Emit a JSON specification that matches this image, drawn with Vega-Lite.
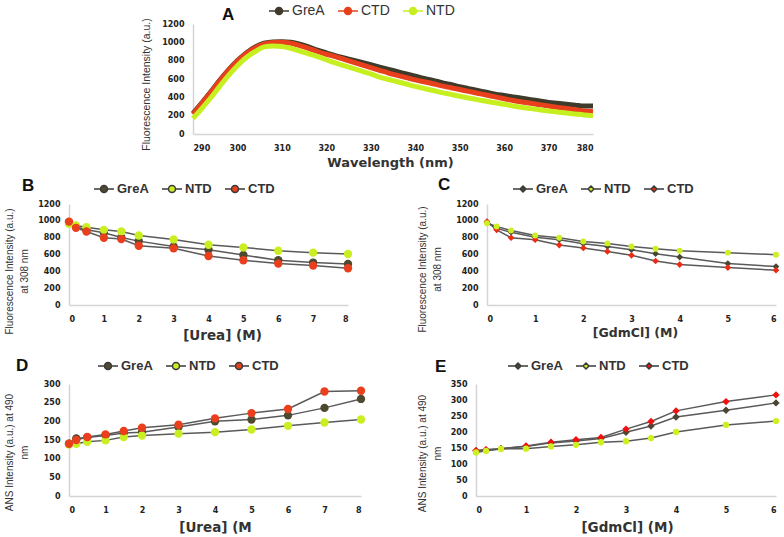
{
  "$schema": "https://vega.github.io/schema/vega-lite/v6.json",
  "padding": {"left": 4, "top": 0, "right": 0, "bottom": 0},
  "background": "white",
  "spacing": 7,
  "resolve": {"scale": {"color": "independent", "stroke": "independent"}, "legend": {"color": "independent"}},
  "config": {
    "font": "Liberation Sans",
    "view": {"stroke": null},
    "axis": {"grid": false, "ticks": false, "domainColor": "#d4d4d4", "domainWidth": 1.5, "labelFont": "DejaVu Sans", "labelFontWeight": "bold", "labelFontSize": 8, "labelColor": "#222", "labelPadding": 9, "format": "d", "titleFont": "Liberation Sans", "titleFontWeight": "normal", "titleFontSize": 10, "titleColor": "#333", "titleLineHeight": 15},
    "axisX": {"titleFont": "DejaVu Sans", "titleFontWeight": "bold", "titleFontSize": 13.5, "titleColor": "#333", "titleBaseline": "middle", "titleAlign": "center", "labelPadding": 10},
    "axisY": {"titleAngle": 270, "titleBaseline": "top", "titleAlign": "center"},
    "legend": {"orient": "none", "direction": "horizontal", "title": null, "symbolSize": 400, "symbolStrokeWidth": 1.5, "symbolOpacity": 1, "labelFont": "Liberation Sans", "labelFontWeight": "bold", "labelFontSize": 13, "labelColor": "#333", "columnPadding": 10, "labelOffset": 2},
    "title": {"font": "Liberation Sans", "fontSize": 17, "fontWeight": "bold", "color": "#111", "anchor": "start", "frame": "group"}
  },
  "datasets": {
    "spec": [
      {"s":"GreA","x":290,"v":225},{"s":"GreA","x":292,"v":340},{"s":"GreA","x":294,"v":460},{"s":"GreA","x":296,"v":585},{"s":"GreA","x":298,"v":700},{"s":"GreA","x":300,"v":800},{"s":"GreA","x":302,"v":885},{"s":"GreA","x":304,"v":950},{"s":"GreA","x":306,"v":990},{"s":"GreA","x":308,"v":1005},{"s":"GreA","x":310,"v":1007},{"s":"GreA","x":312,"v":1000},{"s":"GreA","x":314,"v":980},{"s":"GreA","x":316,"v":950},{"s":"GreA","x":318,"v":915},{"s":"GreA","x":320,"v":885},{"s":"GreA","x":322,"v":855},{"s":"GreA","x":324,"v":830},{"s":"GreA","x":326,"v":805},{"s":"GreA","x":328,"v":780},{"s":"GreA","x":330,"v":755},{"s":"GreA","x":332,"v":730},{"s":"GreA","x":334,"v":705},{"s":"GreA","x":336,"v":680},{"s":"GreA","x":338,"v":655},{"s":"GreA","x":340,"v":630},{"s":"GreA","x":342,"v":605},{"s":"GreA","x":344,"v":585},{"s":"GreA","x":346,"v":560},{"s":"GreA","x":348,"v":540},{"s":"GreA","x":350,"v":515},{"s":"GreA","x":352,"v":495},{"s":"GreA","x":354,"v":475},{"s":"GreA","x":356,"v":455},{"s":"GreA","x":358,"v":435},{"s":"GreA","x":360,"v":420},{"s":"GreA","x":362,"v":405},{"s":"GreA","x":364,"v":390},{"s":"GreA","x":366,"v":375},{"s":"GreA","x":368,"v":360},{"s":"GreA","x":370,"v":345},{"s":"GreA","x":372,"v":335},{"s":"GreA","x":374,"v":325},{"s":"GreA","x":376,"v":315},{"s":"GreA","x":378,"v":305},{"s":"GreA","x":380,"v":305},
      {"s":"CTD","x":290,"v":215},{"s":"CTD","x":292,"v":335},{"s":"CTD","x":294,"v":455},{"s":"CTD","x":296,"v":580},{"s":"CTD","x":298,"v":695},{"s":"CTD","x":300,"v":795},{"s":"CTD","x":302,"v":878},{"s":"CTD","x":304,"v":942},{"s":"CTD","x":306,"v":982},{"s":"CTD","x":308,"v":998},{"s":"CTD","x":310,"v":1000},{"s":"CTD","x":312,"v":990},{"s":"CTD","x":314,"v":965},{"s":"CTD","x":316,"v":935},{"s":"CTD","x":318,"v":900},{"s":"CTD","x":320,"v":870},{"s":"CTD","x":322,"v":845},{"s":"CTD","x":324,"v":815},{"s":"CTD","x":326,"v":785},{"s":"CTD","x":328,"v":755},{"s":"CTD","x":330,"v":725},{"s":"CTD","x":332,"v":695},{"s":"CTD","x":334,"v":665},{"s":"CTD","x":336,"v":640},{"s":"CTD","x":338,"v":615},{"s":"CTD","x":340,"v":590},{"s":"CTD","x":342,"v":570},{"s":"CTD","x":344,"v":548},{"s":"CTD","x":346,"v":525},{"s":"CTD","x":348,"v":505},{"s":"CTD","x":350,"v":485},{"s":"CTD","x":352,"v":465},{"s":"CTD","x":354,"v":445},{"s":"CTD","x":356,"v":425},{"s":"CTD","x":358,"v":405},{"s":"CTD","x":360,"v":385},{"s":"CTD","x":362,"v":365},{"s":"CTD","x":364,"v":350},{"s":"CTD","x":366,"v":335},{"s":"CTD","x":368,"v":320},{"s":"CTD","x":370,"v":305},{"s":"CTD","x":372,"v":290},{"s":"CTD","x":374,"v":278},{"s":"CTD","x":376,"v":265},{"s":"CTD","x":378,"v":252},{"s":"CTD","x":380,"v":243},
      {"s":"NTD","x":290,"v":170},{"s":"NTD","x":292,"v":280},{"s":"NTD","x":294,"v":395},{"s":"NTD","x":296,"v":520},{"s":"NTD","x":298,"v":640},{"s":"NTD","x":300,"v":745},{"s":"NTD","x":302,"v":835},{"s":"NTD","x":304,"v":900},{"s":"NTD","x":306,"v":950},{"s":"NTD","x":308,"v":960},{"s":"NTD","x":310,"v":955},{"s":"NTD","x":312,"v":935},{"s":"NTD","x":314,"v":905},{"s":"NTD","x":316,"v":875},{"s":"NTD","x":318,"v":845},{"s":"NTD","x":320,"v":810},{"s":"NTD","x":322,"v":775},{"s":"NTD","x":324,"v":745},{"s":"NTD","x":326,"v":715},{"s":"NTD","x":328,"v":685},{"s":"NTD","x":330,"v":655},{"s":"NTD","x":332,"v":620},{"s":"NTD","x":334,"v":595},{"s":"NTD","x":336,"v":570},{"s":"NTD","x":338,"v":545},{"s":"NTD","x":340,"v":520},{"s":"NTD","x":342,"v":497},{"s":"NTD","x":344,"v":475},{"s":"NTD","x":346,"v":452},{"s":"NTD","x":348,"v":432},{"s":"NTD","x":350,"v":412},{"s":"NTD","x":352,"v":393},{"s":"NTD","x":354,"v":375},{"s":"NTD","x":356,"v":357},{"s":"NTD","x":358,"v":340},{"s":"NTD","x":360,"v":325},{"s":"NTD","x":362,"v":305},{"s":"NTD","x":364,"v":290},{"s":"NTD","x":366,"v":277},{"s":"NTD","x":368,"v":264},{"s":"NTD","x":370,"v":251},{"s":"NTD","x":372,"v":240},{"s":"NTD","x":374,"v":228},{"s":"NTD","x":376,"v":218},{"s":"NTD","x":378,"v":208},{"s":"NTD","x":380,"v":200}
    ],
    "urea_fl": [
      {"s":"GreA","x":0,"v":985},{"s":"GreA","x":0.2,"v":930},{"s":"GreA","x":0.5,"v":895},{"s":"GreA","x":1,"v":858},{"s":"GreA","x":1.5,"v":802},{"s":"GreA","x":2,"v":759},{"s":"GreA","x":3,"v":696},{"s":"GreA","x":4,"v":657},{"s":"GreA","x":5,"v":594},{"s":"GreA","x":6,"v":531},{"s":"GreA","x":7,"v":504},{"s":"GreA","x":8,"v":488},
      {"s":"NTD","x":0,"v":965},{"s":"NTD","x":0.2,"v":944},{"s":"NTD","x":0.5,"v":924},{"s":"NTD","x":1,"v":893},{"s":"NTD","x":1.5,"v":873},{"s":"NTD","x":2,"v":826},{"s":"NTD","x":3,"v":779},{"s":"NTD","x":4,"v":716},{"s":"NTD","x":5,"v":684},{"s":"NTD","x":6,"v":645},{"s":"NTD","x":7,"v":622},{"s":"NTD","x":8,"v":606},
      {"s":"CTD","x":0,"v":991},{"s":"CTD","x":0.2,"v":917},{"s":"CTD","x":0.5,"v":873},{"s":"CTD","x":1,"v":799},{"s":"CTD","x":1.5,"v":783},{"s":"CTD","x":2,"v":704},{"s":"CTD","x":3,"v":673},{"s":"CTD","x":4,"v":582},{"s":"CTD","x":5,"v":531},{"s":"CTD","x":6,"v":492},{"s":"CTD","x":7,"v":468},{"s":"CTD","x":8,"v":436}
    ],
    "gdm_fl": [
      {"s":"GreA","x":0,"v":985},{"s":"GreA","x":0.2,"v":910},{"s":"GreA","x":0.5,"v":865},{"s":"GreA","x":1,"v":806},{"s":"GreA","x":1.5,"v":775},{"s":"GreA","x":2,"v":728},{"s":"GreA","x":2.5,"v":696},{"s":"GreA","x":3,"v":657},{"s":"GreA","x":3.5,"v":610},{"s":"GreA","x":4,"v":570},{"s":"GreA","x":5,"v":492},{"s":"GreA","x":6,"v":456},
      {"s":"NTD","x":0,"v":972},{"s":"NTD","x":0.2,"v":932},{"s":"NTD","x":0.5,"v":885},{"s":"NTD","x":1,"v":826},{"s":"NTD","x":1.5,"v":799},{"s":"NTD","x":2,"v":755},{"s":"NTD","x":2.5,"v":732},{"s":"NTD","x":3,"v":696},{"s":"NTD","x":3.5,"v":669},{"s":"NTD","x":4,"v":645},{"s":"NTD","x":5,"v":622},{"s":"NTD","x":6,"v":598},
      {"s":"CTD","x":0,"v":991},{"s":"CTD","x":0.2,"v":893},{"s":"CTD","x":0.5,"v":799},{"s":"CTD","x":1,"v":775},{"s":"CTD","x":1.5,"v":712},{"s":"CTD","x":2,"v":677},{"s":"CTD","x":2.5,"v":637},{"s":"CTD","x":3,"v":590},{"s":"CTD","x":3.5,"v":523},{"s":"CTD","x":4,"v":480},{"s":"CTD","x":5,"v":445},{"s":"CTD","x":6,"v":413}
    ],
    "urea_ans": [
      {"s":"GreA","x":0,"v":140},{"s":"GreA","x":0.2,"v":154},{"s":"GreA","x":0.5,"v":157},{"s":"GreA","x":1,"v":162},{"s":"GreA","x":1.5,"v":169},{"s":"GreA","x":2,"v":171},{"s":"GreA","x":3,"v":185},{"s":"GreA","x":4,"v":200},{"s":"GreA","x":5,"v":205},{"s":"GreA","x":6,"v":216},{"s":"GreA","x":7,"v":236},{"s":"GreA","x":8,"v":260},
      {"s":"NTD","x":0,"v":138},{"s":"NTD","x":0.2,"v":140},{"s":"NTD","x":0.5,"v":145},{"s":"NTD","x":1,"v":149},{"s":"NTD","x":1.5,"v":158},{"s":"NTD","x":2,"v":162},{"s":"NTD","x":3,"v":167},{"s":"NTD","x":4,"v":171},{"s":"NTD","x":5,"v":178},{"s":"NTD","x":6,"v":188},{"s":"NTD","x":7,"v":197},{"s":"NTD","x":8,"v":205},
      {"s":"CTD","x":0,"v":140},{"s":"CTD","x":0.2,"v":150},{"s":"CTD","x":0.5,"v":158},{"s":"CTD","x":1,"v":165},{"s":"CTD","x":1.5,"v":174},{"s":"CTD","x":2,"v":183},{"s":"CTD","x":3,"v":191},{"s":"CTD","x":4,"v":208},{"s":"CTD","x":5,"v":222},{"s":"CTD","x":6,"v":233},{"s":"CTD","x":7,"v":280},{"s":"CTD","x":8,"v":282}
    ],
    "gdm_ans": [
      {"s":"GreA","x":0,"v":141},{"s":"GreA","x":0.2,"v":143},{"s":"GreA","x":0.5,"v":148},{"s":"GreA","x":1,"v":155},{"s":"GreA","x":1.5,"v":166},{"s":"GreA","x":2,"v":172},{"s":"GreA","x":2.5,"v":180},{"s":"GreA","x":3,"v":199},{"s":"GreA","x":3.5,"v":219},{"s":"GreA","x":4,"v":247},{"s":"GreA","x":5,"v":268},{"s":"GreA","x":6,"v":291},
      {"s":"NTD","x":0,"v":136},{"s":"NTD","x":0.2,"v":141},{"s":"NTD","x":0.5,"v":147},{"s":"NTD","x":1,"v":148},{"s":"NTD","x":1.5,"v":155},{"s":"NTD","x":2,"v":160},{"s":"NTD","x":2.5,"v":168},{"s":"NTD","x":3,"v":171},{"s":"NTD","x":3.5,"v":181},{"s":"NTD","x":4,"v":200},{"s":"NTD","x":5,"v":222},{"s":"NTD","x":6,"v":234},
      {"s":"CTD","x":0,"v":142},{"s":"CTD","x":0.2,"v":145},{"s":"CTD","x":0.5,"v":148},{"s":"CTD","x":1,"v":156},{"s":"CTD","x":1.5,"v":168},{"s":"CTD","x":2,"v":176},{"s":"CTD","x":2.5,"v":183},{"s":"CTD","x":3,"v":209},{"s":"CTD","x":3.5,"v":233},{"s":"CTD","x":4,"v":266},{"s":"CTD","x":5,"v":295},{"s":"CTD","x":6,"v":316}
    ]
  },
  "vconcat": [
    {
      "bounds": "flush",
      "spacing": 123,
      "resolve": {"scale": {"color": "independent", "stroke": "independent"}, "legend": {"color": "independent"}},
      "hconcat": [
        {"width": 1, "height": 110, "data": {"values": []}, "mark": "point"},
        {
          "width": 400, "height": 110,
          "title": {"text": "A", "dx": 29, "dy": 28},
          "data": {"name": "spec"},
          "encoding": {
            "x": {"field": "x", "type": "quantitative", "scale": {"domain": [290, 380]}, "axis": {"values": [290,300,310,320,330,340,350,360,370,380], "title": "Wavelength (nm)", "titleX": 197, "titleY": 28, "titleFontSize": 13}},
            "y": {"field": "v", "type": "quantitative", "scale": {"domain": [0, 1200]}, "axis": {"values": [0,200,400,600,800,1000,1200], "title": "Fluorescence Intensity (a.u.)", "titleX": -52, "titleY": 60, "titleFontSize": 10.5}}
          },
          "layer": [
            {"mark": {"type": "point", "filled": true, "opacity": 0},
             "encoding": {"color": {"field": "s", "type": "nominal", "scale": {"domain": ["GreA","CTD","NTD"], "range": ["#3f3b2a","#e8401c","#c6ef1f"]},
               "legend": {"legendX": 75, "legendY": -24, "symbolType": "M-1,0L-0.35,0M0.35,0L1,0M-0.35,0A0.35,0.35,0,1,0,0.35,0A0.35,0.35,0,1,0,-0.35,0Z", "labelFontWeight": "normal", "labelFontSize": 14,
                 "encode": {"symbols": {"update": {"stroke": {"value": "#3a3a3a"}, "strokeWidth": {"value": 1.5}, "opacity": {"value": 1}}}}}}}},
            {"mark": {"type": "line", "strokeWidth": 5, "interpolate": "monotone"},
             "encoding": {"stroke": {"field": "s", "type": "nominal", "scale": {"domain": ["GreA","CTD","NTD"], "range": ["#3f3b2a","#e8401c","#c6ef1f"]}, "legend": null}}}
          ]
        }
      ]
    },
    {
      "bounds": "flush",
      "spacing": 69,
      "resolve": {"scale": {"color": "independent"}, "legend": {"color": "independent"}},
      "hconcat": [
        {
          "width": 279, "height": 101,
          "title": {"text": "B", "dx": -47, "dy": 21},
          "data": {"name": "urea_fl"},
          "encoding": {
            "x": {"field": "x", "type": "quantitative", "scale": {"domain": [0, 8]}, "axis": {"values": [0,1,2,3,4,5,6,7,8], "title": "[Urea] (M)", "titleX": 153, "titleY": 30}},
            "y": {"field": "v", "type": "quantitative", "scale": {"domain": [0, 1200]}, "axis": {"values": [0,200,400,600,800,1000,1200], "title": ["Fluorescence Intensity (a.u.)", "at 308 nm"], "titleX": -65, "titleY": 67}}
          },
          "layer": [
            {"mark": {"type": "line", "color": "#5a5a5a", "strokeWidth": 1.5}, "encoding": {"detail": {"field": "s"}}},
            {"mark": {"type": "point", "filled": true, "opacity": 1, "size": 70, "shape": "circle"},
             "encoding": {"color": {"field": "s", "type": "nominal", "scale": {"domain": ["GreA","NTD","CTD"], "range": ["#4e4a30","#c9ef22","#ea3f1c"]},
               "legend": {"legendX": 24, "legendY": -26, "symbolType": "M-1,0L-0.35,0M0.35,0L1,0M-0.35,0A0.35,0.35,0,1,0,0.35,0A0.35,0.35,0,1,0,-0.35,0Z",
                 "encode": {"symbols": {"update": {"stroke": {"value": "#3a3a3a"}, "strokeWidth": {"value": 1.5}}}}}}}}
          ]
        },
        {"width": 1, "height": 144, "data": {"values": []}, "mark": "point"},
        {
          "width": 289, "height": 101,
          "title": {"text": "C", "dx": -49, "dy": 20},
          "data": {"name": "gdm_fl"},
          "encoding": {
            "x": {"field": "x", "type": "quantitative", "scale": {"domain": [0, 6]}, "axis": {"values": [0,1,2,3,4,5,6], "title": "[GdmCl] (M)", "titleX": 148, "titleY": 27, "titleFontSize": 12.5}},
            "y": {"field": "v", "type": "quantitative", "scale": {"domain": [0, 1200]}, "axis": {"values": [0,200,400,600,800,1000,1200], "title": ["Fluorescence Intensity (a.u.)", "at 308 nm"], "titleX": -70, "titleY": 65}}
          },
          "layer": [
            {"mark": {"type": "line", "color": "#5a5a5a", "strokeWidth": 1.5}, "encoding": {"detail": {"field": "s"}}},
            {"transform": [{"filter": "datum.s !== 'NTD'"}],
             "mark": {"type": "point", "filled": true, "opacity": 1, "size": 45, "shape": "diamond"},
             "encoding": {"color": {"field": "s", "type": "nominal", "scale": {"domain": ["GreA","NTD","CTD"], "range": ["#4a4632","#cdf020","#ee2a12"]},
               "legend": {"legendX": 25, "legendY": -26, "symbolType": "M-1,0L-0.3,0M0.3,0L1,0M0,-0.3L0.3,0L0,0.3L-0.3,0Z",
                 "encode": {"symbols": {"update": {"stroke": {"value": "#3a3a3a"}, "strokeWidth": {"value": 1.5}}}}}}}},
            {"transform": [{"filter": "datum.s === 'NTD'"}],
             "mark": {"type": "point", "filled": true, "opacity": 1, "size": 35, "shape": "circle"},
             "encoding": {"color": {"field": "s", "type": "nominal", "scale": {"domain": ["GreA","NTD","CTD"], "range": ["#4a4632","#cdf020","#ee2a12"]},
               "legend": {"legendX": 25, "legendY": -26, "symbolType": "M-1,0L-0.3,0M0.3,0L1,0M0,-0.3L0.3,0L0,0.3L-0.3,0Z",
                 "encode": {"symbols": {"update": {"stroke": {"value": "#3a3a3a"}, "strokeWidth": {"value": 1.5}}}}}}}}
          ]
        }
      ]
    },
    {
      "bounds": "flush",
      "spacing": 115,
      "resolve": {"scale": {"color": "independent"}, "legend": {"color": "independent"}},
      "hconcat": [
        {
          "width": 292, "height": 112,
          "title": {"text": "D", "dx": -53, "dy": 24},
          "data": {"name": "urea_ans"},
          "encoding": {
            "x": {"field": "x", "type": "quantitative", "scale": {"domain": [0, 8]}, "axis": {"values": [0,1,2,3,4,5,6,7,8], "title": "[Urea]  (M", "titleX": 146, "titleY": 31}},
            "y": {"field": "v", "type": "quantitative", "scale": {"domain": [0, 300]}, "axis": {"values": [0,50,100,150,200,250,300], "title": ["ANS Intensity (a.u.) at 490", "nm"], "titleX": -65, "titleY": 68}}
          },
          "layer": [
            {"mark": {"type": "line", "color": "#5a5a5a", "strokeWidth": 1.5}, "encoding": {"detail": {"field": "s"}}},
            {"mark": {"type": "point", "filled": true, "opacity": 1, "size": 70, "shape": "circle"},
             "encoding": {"color": {"field": "s", "type": "nominal", "scale": {"domain": ["GreA","NTD","CTD"], "range": ["#4e4a30","#c9ef22","#ea3f1c"]},
               "legend": {"legendX": 28, "legendY": -29, "symbolType": "M-1,0L-0.35,0M0.35,0L1,0M-0.35,0A0.35,0.35,0,1,0,0.35,0A0.35,0.35,0,1,0,-0.35,0Z",
                 "encode": {"symbols": {"update": {"stroke": {"value": "#3a3a3a"}, "strokeWidth": {"value": 1.5}}}}}}}}
          ]
        },
        {
          "width": 300, "height": 112,
          "title": {"text": "E", "dx": -41, "dy": 25},
          "data": {"name": "gdm_ans"},
          "encoding": {
            "x": {"field": "x", "type": "quantitative", "scale": {"domain": [0, 6]}, "axis": {"values": [0,1,2,3,4,5,6], "title": "[GdmCl] (M)", "titleX": 151, "titleY": 31}},
            "y": {"field": "v", "type": "quantitative", "scale": {"domain": [0, 350]}, "axis": {"values": [0,50,100,150,200,250,300,350], "title": ["ANS Intensity (a.u.) at 490", "nm"], "titleX": -59, "titleY": 69}}
          },
          "layer": [
            {"mark": {"type": "line", "color": "#5a5a5a", "strokeWidth": 1.5}, "encoding": {"detail": {"field": "s"}}},
            {"transform": [{"filter": "datum.s !== 'NTD'"}],
             "mark": {"type": "point", "filled": true, "opacity": 1, "size": 55, "shape": "diamond"},
             "encoding": {"color": {"field": "s", "type": "nominal", "scale": {"domain": ["GreA","NTD","CTD"], "range": ["#4a4632","#cdf020","#f01010"]},
               "legend": {"legendX": 31, "legendY": -29, "symbolType": "M-1,0L-0.3,0M0.3,0L1,0M0,-0.3L0.3,0L0,0.3L-0.3,0Z",
                 "encode": {"symbols": {"update": {"stroke": {"value": "#3a3a3a"}, "strokeWidth": {"value": 1.5}}}}}}}},
            {"transform": [{"filter": "datum.s === 'NTD'"}],
             "mark": {"type": "point", "filled": true, "opacity": 1, "size": 40, "shape": "circle"},
             "encoding": {"color": {"field": "s", "type": "nominal", "scale": {"domain": ["GreA","NTD","CTD"], "range": ["#4a4632","#cdf020","#f01010"]},
               "legend": {"legendX": 31, "legendY": -29, "symbolType": "M-1,0L-0.3,0M0.3,0L1,0M0,-0.3L0.3,0L0,0.3L-0.3,0Z",
                 "encode": {"symbols": {"update": {"stroke": {"value": "#3a3a3a"}, "strokeWidth": {"value": 1.5}}}}}}}}
          ]
        }
      ]
    }
  ]
}
